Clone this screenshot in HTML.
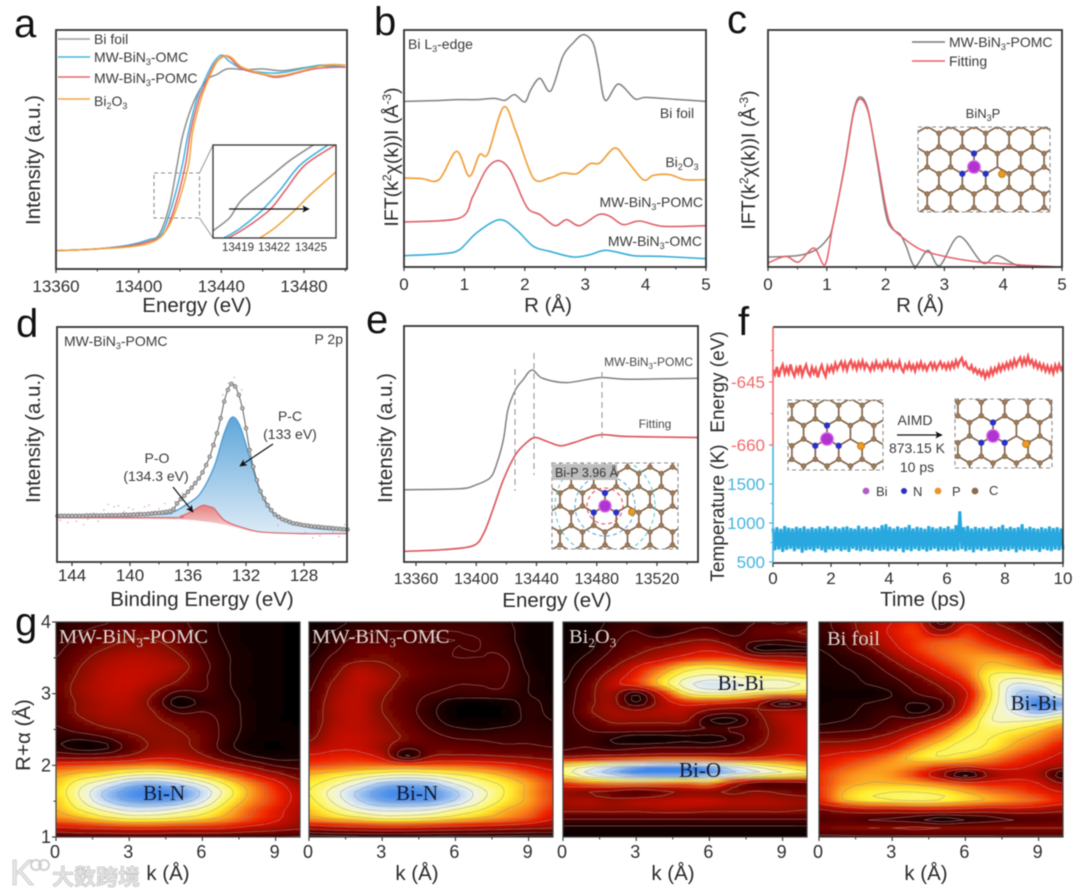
<!DOCTYPE html>
<html lang="en">
<head>
<meta charset="utf-8">
<title>XAFS characterisation figure</title>
<style>
html,body{margin:0;padding:0;background:#fff;width:1080px;height:895px;overflow:hidden}
svg{display:block;filter:blur(.65px)}
text{font-family:"Liberation Sans","Noto Sans CJK SC",sans-serif;fill:#2c2c2c}
.l{font-size:40px;fill:#111}
.t{font-size:17px;text-anchor:middle;fill:#2e2e2e}
.at{font-size:20.5px;text-anchor:middle;fill:#2a2a2a}
.s{font-size:14px;fill:#3a3a3a}
.sm{font-size:12px;fill:#4a4a4a}
.m{text-anchor:middle}
.hl{font-family:"Liberation Serif",serif;font-size:20.5px;fill:#dcd6d2}
.hp{font-family:"Liberation Serif",serif;font-size:21px;fill:#14182c;text-anchor:middle}
</style>
</head>
<body>
<svg id="fig" xmlns="http://www.w3.org/2000/svg" width="1080" height="895" viewBox="0 0 1080 895">
<defs>
<marker id="ah" markerWidth="7" markerHeight="7" refX="5.5" refY="3" orient="auto"><path d="M0 0L6 3L0 6L1.4 3Z" fill="#111"/></marker>
<linearGradient id="gb" gradientUnits="userSpaceOnUse" x1="0" y1="420" x2="0" y2="530"><stop offset="0" stop-color="#62a8da"/><stop offset="1" stop-color="#d9e9f6"/></linearGradient>
<linearGradient id="gr" gradientUnits="userSpaceOnUse" x1="0" y1="505" x2="0" y2="530"><stop offset="0" stop-color="#e67f80"/><stop offset="1" stop-color="#f8d8d8"/></linearGradient>
<filter id="hb" x="-5%" y="-5%" width="110%" height="110%"><feGaussianBlur stdDeviation="1.1"/></filter>
</defs>

<!-- panel letters -->
<text class="l" x="14" y="37">a</text>
<text class="l" x="374" y="35">b</text>
<text class="l" x="727" y="33">c</text>
<text class="l" x="16" y="337">d</text>
<text class="l" x="366" y="333">e</text>
<text class="l" x="738" y="335">f</text>
<text class="l" x="15" y="635">g</text>

<!-- axis titles -->
<text class="at" x="197" y="312">Energy (eV)</text>
<text class="at" transform="rotate(-90 40 160)" x="40" y="160">Intensity (a.u.)</text>
<text class="at" x="548" y="312">R (Å)</text>
<text class="at" style="font-size:19.5px" transform="rotate(-90 398 157)" x="398" y="157">IFT(k<tspan font-size="12" dy="-7">2</tspan><tspan dy="7">χ(k))I (Å</tspan><tspan font-size="12" dy="-7">-3</tspan><tspan dy="7">)</tspan></text>
<text class="at" x="920" y="312">R (Å)</text>
<text class="at" style="font-size:19.5px" transform="rotate(-90 755 160)" x="755" y="160">IFT(k<tspan font-size="12" dy="-7">2</tspan><tspan dy="7">χ(k))I (Å</tspan><tspan font-size="12" dy="-7">-3</tspan><tspan dy="7">)</tspan></text>
<text class="at" x="202" y="606">Binding Energy (eV)</text>
<text class="at" transform="rotate(-90 40 438)" x="40" y="438">Intensity (a.u.)</text>
<text class="at" x="557" y="607">Energy (eV)</text>
<text class="at" transform="rotate(-90 392 438)" x="392" y="438">Intensity (a.u.)</text>
<text class="at" x="923" y="606">Time (ps)</text>
<text class="at" style="font-size:19px" transform="rotate(-90 724 382)" x="724" y="382">Energy (eV)</text>
<text class="at" style="font-size:19px" transform="rotate(-90 724 513)" x="724" y="513">Temperature (K)</text>
<text class="at" transform="rotate(-90 30 735)" x="30" y="735">R+α (Å)</text>
<text class="at" x="168" y="880">k (Å)</text>
<text class="at" x="417" y="880">k (Å)</text>
<text class="at" x="673" y="880">k (Å)</text>
<text class="at" x="926" y="880">k (Å)</text>

<g id="layer"></g>

<!-- panel a legend -->
<g>
<line x1="58" x2="90" y1="39" y2="39" stroke="#999" stroke-width="1.4"/>
<text class="s" x="94" y="44">Bi foil</text>
<line x1="58" x2="90" y1="57" y2="57" stroke="#45b4de" stroke-width="1.4"/>
<text class="s" x="94" y="62">MW-BiN<tspan font-size="9" dy="3">3</tspan><tspan dy="-3">-OMC</tspan></text>
<line x1="58" x2="90" y1="77" y2="77" stroke="#e0666e" stroke-width="1.4"/>
<text class="s" x="94" y="83">MW-BiN<tspan font-size="9" dy="3">3</tspan><tspan dy="-3">-POMC</tspan></text>
<line x1="58" x2="90" y1="99" y2="99" stroke="#f2a640" stroke-width="1.4"/>
<text class="s" x="94" y="106">Bi<tspan font-size="9" dy="3">2</tspan><tspan dy="-3">O</tspan><tspan font-size="9" dy="3">3</tspan></text>
</g>
<g>
<text class="sm m" x="238" y="251" style="font-size:11.5px;fill:#333">13419</text>
<text class="sm m" x="274" y="251" style="font-size:11.5px;fill:#333">13422</text>
<text class="sm m" x="311" y="251" style="font-size:11.5px;fill:#333">13425</text>
</g>

<!-- panel b annotations -->
<text class="s" x="408" y="49">Bi L<tspan font-size="9" dy="3">3</tspan><tspan dy="-3">-edge</tspan></text>
<text class="s m" x="677" y="118">Bi foil</text>
<text class="s m" x="682" y="167">Bi<tspan font-size="9" dy="3">2</tspan><tspan dy="-3">O</tspan><tspan font-size="9" dy="3">3</tspan></text>
<text class="s" text-anchor="end" x="703" y="207">MW-BiN<tspan font-size="9" dy="3">3</tspan><tspan dy="-3">-POMC</tspan></text>
<text class="s" text-anchor="end" x="702" y="246">MW-BiN<tspan font-size="9" dy="3">3</tspan><tspan dy="-3">-OMC</tspan></text>

<!-- panel c annotations -->
<g>
<line x1="912" x2="945" y1="42" y2="42" stroke="#777" stroke-width="1.4"/>
<text class="s" x="949" y="47">MW-BiN<tspan font-size="9" dy="3">3</tspan><tspan dy="-3">-POMC</tspan></text>
<line x1="912" x2="945" y1="61" y2="61" stroke="#e8606a" stroke-width="1.4"/>
<text class="s" x="949" y="66">Fitting</text>
</g>
<text class="s m" style="font-size:13px" x="983" y="118">BiN<tspan font-size="9" dy="3">3</tspan><tspan dy="-3">P</tspan></text>

<!-- panel d annotations -->
<text class="s" x="64" y="346">MW-BiN<tspan font-size="9" dy="3">3</tspan><tspan dy="-3">-POMC</tspan></text>
<text class="s" text-anchor="end" x="343" y="344">P 2p</text>
<text class="s m" x="290" y="421">P-C</text>
<text class="s m" x="290" y="439">(133 eV)</text>
<text class="s m" x="157" y="463">P-O</text>
<text class="s m" x="156" y="481">(134.3 eV)</text>

<!-- panel e annotations -->
<text class="sm" text-anchor="end" x="693" y="366">MW-BiN<tspan font-size="8" dy="3">3</tspan><tspan dy="-3">-POMC</tspan></text>
<text class="sm m" x="655" y="428">Fitting</text>

<!-- panel f annotations -->
<text class="s m" x="915" y="425">AIMD</text>
<text class="s m" x="917" y="453">873.15 K</text>
<text class="s m" x="917" y="472">10 ps</text>
<line x1="897" x2="942" y1="435" y2="435" stroke="#111" stroke-width="1.2" marker-end="url(#ah)"/>
<g>
<circle cx="866" cy="491" r="3.4" fill="#b25cc4"/>
<text class="s" style="font-size:13px" x="876" y="496">Bi</text>
<circle cx="904" cy="491" r="3" fill="#2a2fc0"/>
<text class="s" style="font-size:13px" x="913" y="496">N</text>
<circle cx="938" cy="491" r="3.4" fill="#e8962a"/>
<text class="s" style="font-size:13px" x="952" y="496">P</text>
<circle cx="975" cy="491" r="3.4" fill="#8d6a4c"/>
<text class="s" style="font-size:13px" x="989" y="495">C</text>
</g>

<!-- panel g labels -->
<g id="hlabels">
<text class="hl" x="59" y="643">MW-BiN<tspan font-size="13" dy="4">3</tspan><tspan dy="-4">-POMC</tspan></text>
<text class="hl" x="312" y="643">MW-BiN<tspan font-size="13" dy="4">3</tspan><tspan dy="-4">-OMC</tspan></text>
<text class="hl" x="569" y="643">Bi<tspan font-size="13" dy="4">2</tspan><tspan dy="-4">O</tspan><tspan font-size="13" dy="4">3</tspan></text>
<text class="hl" x="827" y="645">Bi foil</text>
<text class="hp" x="164" y="800">Bi-N</text>
<text class="hp" x="417" y="800">Bi-N</text>
<text class="hp" x="741" y="690">Bi-Bi</text>
<text class="hp" x="700" y="777">Bi-O</text>
<text class="hp" x="1034" y="710">Bi-Bi</text>
</g>

<!-- watermark -->
<g>
<text x="10" y="885" style="font-size:36px;fill:#e6e6e6;stroke:#c8c8c8;stroke-width:.7">K</text>
<circle cx="36" cy="865" r="5" fill="none" stroke="#d0d0d0" stroke-width="2"/>
<circle cx="44" cy="865" r="5" fill="none" stroke="#d0d0d0" stroke-width="2"/>
<text x="52" y="885" style="font-family:'Noto Sans CJK SC',sans-serif;font-size:22px;font-weight:700;fill:#e4e4e4;stroke:#bfbfbf;stroke-width:.6">大数跨境</text>
</g>
</svg>

<script>
/* ---------- panel a: XANES ---------- */
const aTicks=[13360,13400,13440,13480];
const aMinor=[13380,13420,13460,13500];
const aGrayE=[13360,13380,13395,13405,13410,13415,13418.5,13421.6,13427,13433,13438,13443,13452,13460,13470,13486,13500];
const aGrayV=[0,.01,.03,.06,.09,.25,.46,.64,.82,.93,.96,.99,.985,.99,.98,1.005,1.0];
const aBlueE=[13360,13380,13395,13405,13411,13416,13421,13424,13428,13432,13436,13440,13444,13450,13460,13470,13488,13500];
const aBlueV=[0,.01,.03,.06,.09,.24,.46,.64,.82,.93,1.02,1.065,1.03,.99,.97,.97,1.01,1.0];
const aRedE=[13360,13380,13395,13405,13412,13417,13422.5,13425,13429,13433,13437,13441,13444,13450,13460,13468,13485,13500];
const aRedV=[0,.01,.025,.05,.09,.22,.46,.64,.82,.93,1.02,1.06,1.05,.99,.96,.945,.99,1.0];
const aOrangeE=[13360,13380,13395,13405,13412,13418,13424,13426,13430,13434,13438,13442,13445,13450,13461,13470,13490,13500];
const aOrangeV=[0,.01,.02,.04,.09,.22,.46,.64,.82,.94,1.03,1.06,1.05,1.0,.96,.955,1.01,1.01];
const insGrayE=[13416.9,13418.3,13419.3,13421.5,13423.3,13425.2];
const insGrayV=[.196,.231,.278,.336,.383,.423];
const insBlueE=[13417.85,13419.2,13421,13422.45,13424.1,13426.4];
const insBlueV=[.178,.204,.252,.304,.370,.423];
const insRedE=[13418.2,13419.6,13421.6,13422.9,13424.5,13427];
const insRedV=[.178,.204,.252,.304,.370,.423];
const insOrangeE=[13420.8,13422,13423.7,13424.9,13427.05];
const insOrangeV=[.178,.204,.252,.291,.352];

/* ---------- panel b: FT-EXAFS ---------- */
const bTicks=[0,1,2,3,4,5];
const bGrayR=[0,.5,.9,1.2,1.5,1.67,1.83,2.0,2.1,2.25,2.43,2.63,2.8,2.97,3.13,3.22,3.33,3.55,3.82,4.0,4.5,5];
const bGrayI=[497,499,502,502,506,500,517,495,532,566,528,632,672,697,672,600,500,549,505,509,503,497];
const bOrangeR=[0,.3,.58,.87,1.08,1.25,1.39,1.65,1.86,2.14,2.41,2.63,2.86,3.08,3.24,3.49,3.68,3.96,4.13,4.4,4.65,5];
const bOrangeI=[267,265,262,347,272,337,340,480,402,267,267,282,280,310,312,357,322,262,275,277,262,262];
const bRedR=[0,.92,1.14,1.36,1.56,1.75,1.97,2.08,2.25,2.5,2.69,2.91,3.22,3.41,3.63,3.9,4.29,5];
const bRedI=[135,147,212,292,319,292,202,170,157,124,142,124,157,152,127,138,122,124];
const bBlueR=[0,.65,.92,1.2,1.58,1.86,2.14,2.41,2.8,3.08,3.35,3.8,4.24,5];
const bBlueI=[34,40,52,102,142,112,62,47,30,37,50,34,32,25];

/* ---------- panel c: FT fit ---------- */
const cGrayR=[0,.5,.8,1,1.1,1.3,1.45,1.56,1.7,1.85,2,2.1,2.25,2.35,2.5,2.72,2.92,3.25,3.65,3.9,4.3,5];
const cGrayI=[30,34,50,82,122,302,462,510,472,322,162,117,97,62,2,50,4,92,12,34,2,0];
const cRedR=[0,.3,.52,.78,.97,1.1,1.3,1.45,1.56,1.7,1.85,2,2.1,2.3,2.6,3,3.5,4,4.5,5];
const cRedI=[12,32,15,57,7,122,297,457,504,467,332,182,122,87,52,32,17,10,4,0];

/* ---------- panel d: P 2p XPS ---------- */
const dTicks=[144,140,136,132,128];
const dMinor=[142,138,134,130,126];
const dEnvelope=[138,138,138,138,138,138,138,138,139,139,139,139,139,139,140,140,140,140,141,141,141,142,142,143,143,144,145,146,147,148,150,152,158,175,188,198,210,222,236,250,268,290,315,350,385,430,480,515,533,525,500,460,400,335,285,245,212,190,170,155,142,135,128,124,120,116,114,112,110,109,107,106,105,104,103,102,101,100,99,98,97];
const dBlueE=[145,138,137,136,135.15,134.2,133.5,132.96,132.4,131.7,131,130.1,128.7,127.1,125];
const dBlueI=[138,143,150,175,205,285,385,433,405,305,210,145,115,100,95];
const dRedE=[145,137,136.5,135.8,135.2,134.9,134.5,134.2,133.5,132.4,131,128.2,125];
const dRedI=[133,133,137,150,165,170,165,160,125,105,90,85,85];
const dBaseE=[145,137,135,133.5,132,131,128,125];
const dBaseI=[130,128,122,112,95,88,83,85];
const dRawE=[144.8,144.3,143.7,143.2,142.9,142.5,142.2,141.8,141.5,141.1,140.8,140.4,140.1,139.8,139.4,139,138.7,138.3,138,137.6,137.3,136.9,136.4,135.7,134.9,134.1,133.6,133.2,132.8,132.3,131.8,131.3,130.6,129.8,128.9,127.9,127.4,126.9,126.5,126,125.6,125.2];
const dRawI=[125,118,122,112,128,146,122,155,172,165,168,150,163,158,148,165,170,152,160,175,145,180,205,228,268,345,500,535,552,515,352,240,165,110,118,88,72,78,100,90,76,112];

/* ---------- panel e: XANES fit ---------- */
const eTicks=[13360,13400,13440,13480,13520];
const eMinor=[13380,13420,13460,13500,13540];
const eGrayE=[13352,13389,13400,13409,13413,13418,13421,13426,13431,13437,13444,13460,13482,13500,13547];
const eGrayI=[217,220,232,252,287,367,457,517,547,577,552,539,554,549,552];
const eRedE=[13352,13378,13398,13405,13411,13418,13426,13433,13439,13447,13456,13465,13482,13500,13547];
const eRedI=[32,37,49,87,157,247,322,357,374,362,349,359,382,377,374];

/* ---------- panel f: AIMD ---------- */
const fTicks=[0,2,4,6,8,10];
const fEnergyTicks=[-645,-660];
const fTempTicks=[1500,1000,500];
const fEnergy=[-642.1,-643.2,-641.4,-643.8,-641.9,-640.9,-643,-641.6,-642.9,-640.8,-642.6,-643.6,-641.7,-642.8,-641,-643.4,-642,-640.9,-642.7,-643.5,-641.5,-642.9,-641.8,-643.9,-642.2,-641,-642.6,-643.7,-641.3,-642.4,
-641.2,-642.5,-640.6,-642,-641,-640.2,-641.9,-640.4,-642.2,-640.7,-639.9,-641.6,-640.5,-642,-640.3,-641.5,-640,-641.8,-640.6,-641.4,-642.3,-640.7,-641.9,-640.2,-641.6,-640.8,-642,-640.4,-641.3,-640,
-641.5,-640.4,-642.1,-640.8,-641.6,-640.1,-641.9,-642.6,-640.9,-641.8,-640.5,-642,-641,-642.4,-640.7,-641.7,-640.3,-641.9,-640.9,-642.2,-641.1,-640.4,-641.8,-640.6,-642,-641,-640.2,-641.6,-640.7,-641.9,
-640.6,-641.8,-640.4,-641.5,-639.9,-641.2,-640,-639.3,-641,-640.3,-641.6,-642,-641.1,-642.6,-641.8,-643,-642.2,-643.4,-642.4,-644,-642.6,-643.6,-641.9,-643.2,-641.7,-642.6,-641,-642.3,-640.9,-641.9,
-640.5,-641.7,-640.2,-641.4,-639.7,-641.1,-640,-639.2,-640.9,-639.4,-640.7,-638.9,-640.6,-639.8,-641.3,-640.2,-641.7,-640.6,-642,-640.9,-642.4,-641.2,-642.6,-641.4,-642.9,-641,-642.3,-640.8,-642.1,-641.2];
const fTemp=[930,650,945,660,925,630,960,655,940,670,930,640,950,665,935,620,955,650,925,660,945,640,930,670,950,650,935,625,960,660,
925,645,950,665,930,640,945,655,955,630,935,670,925,650,965,640,930,660,950,650,925,635,945,665,935,645,970,655,985,640,
950,660,930,640,955,670,935,625,945,655,975,640,930,665,950,645,940,660,925,635,960,650,945,670,930,640,950,655,935,645,
955,660,925,640,970,650,1150,665,945,640,960,655,930,625,950,660,935,645,945,670,925,640,955,650,930,660,945,635,975,655,
930,645,950,665,935,625,945,655,985,640,930,660,950,645,935,655,925,630,945,665,930,650,955,640,935,660,945,650,930,665];

/* ---------- panel g: wavelet-transform magnitude (rows R = 4 to 1, columns k = 0 to 10) ---------- */
const gKTicks=[0,3,6,9];
const gRTicks=[4,3,2,1];
const hmPomc=[
[8,12,15,18,20,18,12,6,3,2,1],
[10,15,20,24,24,20,13,6,3,2,1],
[12,18,24,28,28,23,14,7,3,2,1],
[14,22,28,32,32,26,16,8,4,2,1],
[16,25,33,37,36,30,18,9,4,2,1],
[18,28,36,39,38,34,20,9,4,2,1],
[20,30,38,40,38,30,18,9,4,2,1],
[22,32,38,40,34,25,18,9,4,2,1],
[22,32,38,38,28,12,15,10,4,2,1],
[20,30,36,36,24,3,10,11,5,2,1],
[20,30,35,34,28,14,16,12,5,2,1],
[18,26,32,33,30,24,20,13,5,2,1],
[14,20,26,30,31,28,22,13,5,3,2],
[10,9,14,24,30,30,24,12,4,3,3],
[10,4,6,20,30,31,24,11,3,1,3],
[24,22,24,30,38,38,30,18,9,5,6],
[50,52,54,56,58,54,46,35,25,15,12],
[62,66,70,76,78,74,66,56,44,32,22],
[66,76,84,92,94,90,82,70,58,46,32],
[68,80,92,98,100,98,90,76,62,50,38],
[66,78,90,96,97,95,86,72,60,50,38],
[64,72,80,86,86,82,76,66,55,46,36],
[58,62,68,72,72,70,66,60,52,44,34],
[40,42,44,46,46,44,44,42,38,34,30],
[15,18,18,18,18,18,18,18,15,15,15]];
const hmOmc=[
[3,5,10,12,14,14,14,14,10,3,2],
[4,8,14,16,16,16,16,15,12,3,2],
[5,12,18,18,17,16,16,16,12,3,2],
[6,14,22,24,20,17,16,16,14,4,2],
[8,18,24,26,22,18,16,16,16,5,2],
[10,22,34,30,24,20,18,18,18,6,2],
[12,26,38,34,26,20,18,18,17,8,3],
[14,30,38,34,22,18,16,16,16,8,3],
[16,32,38,30,20,16,14,14,14,8,4],
[18,34,38,28,20,12,3,2,4,10,5],
[20,34,38,28,20,10,2,1,2,10,6],
[20,34,38,30,22,12,3,2,3,10,8],
[22,36,38,32,24,16,10,8,10,12,10],
[26,38,40,34,26,20,16,15,14,14,12],
[34,40,40,32,18,22,22,20,18,18,16],
[44,46,46,38,8,28,30,30,28,26,24],
[52,54,56,56,54,54,54,52,48,42,36],
[64,68,72,76,78,76,72,68,62,54,46],
[70,76,84,92,94,92,84,76,70,62,52],
[72,82,92,98,100,98,92,82,72,62,52],
[70,80,90,96,97,96,90,80,70,62,52],
[66,74,82,86,86,84,78,72,64,58,48],
[60,64,68,72,72,70,66,62,58,52,42],
[32,36,38,40,40,38,36,34,32,30,28],
[4,5,6,6,6,6,6,6,6,5,5]];
const hmBi2O3=[
[2,3,10,14,14,15,14,10,16,14,18],
[2,4,12,16,8,15,18,12,22,24,30],
[2,5,14,20,20,26,28,20,18,16,22],
[2,6,16,24,30,36,40,30,5,5,6],
[3,10,20,30,38,46,50,48,36,34,30],
[5,14,26,42,54,66,70,66,60,54,50],
[6,18,34,48,64,76,80,78,74,72,68],
[8,22,38,48,66,82,88,86,82,82,78],
[8,24,32,10,42,70,78,76,70,66,64],
[10,24,32,8,34,46,46,42,32,6,20],
[10,26,34,32,36,36,24,20,28,34,34],
[12,20,30,30,30,30,8,6,24,36,40],
[12,16,20,20,20,18,16,18,24,34,42],
[12,14,8,3,3,6,4,10,24,34,42],
[14,16,12,14,16,16,16,20,28,36,42],
[26,30,32,34,36,36,36,34,38,44,42],
[70,76,84,90,95,95,90,82,74,68,62],
[74,85,92,98,100,100,96,88,82,76,72],
[50,56,60,60,58,56,60,36,20,20,22],
[32,28,24,18,24,30,30,26,30,26,24],
[34,36,32,36,38,40,40,36,36,34,32],
[30,30,30,30,32,32,30,30,30,30,28],
[16,16,16,16,16,16,16,16,16,16,16],
[6,6,6,6,6,6,6,6,6,6,6],
[3,3,3,3,3,3,3,3,3,3,3]];
const hmFoil=[
[12,22,34,42,46,12,40,30,20,10,4],
[12,20,34,44,50,30,48,38,28,16,6],
[10,16,30,42,50,52,54,46,36,24,10],
[8,14,24,38,50,56,58,54,46,34,16],
[6,10,16,30,44,54,60,62,58,48,28],
[6,8,12,22,36,48,58,66,64,56,42],
[5,6,10,16,26,40,54,72,76,72,66],
[4,5,8,12,20,30,46,72,86,84,78],
[4,4,3,8,16,24,40,70,90,92,82],
[4,5,8,10,8,14,42,72,90,100,96],
[5,6,10,14,6,18,48,76,86,94,88],
[6,8,12,18,22,36,60,78,80,78,70],
[12,14,16,24,36,52,68,74,72,66,58],
[24,24,28,36,50,62,72,72,66,60,52],
[34,36,38,46,60,70,74,70,62,54,44],
[42,46,50,58,68,72,68,62,54,46,40],
[46,52,58,62,60,54,50,50,46,40,34],
[50,58,62,60,50,30,4,30,38,34,8],
[50,60,64,64,62,56,48,46,46,42,28],
[50,64,70,72,72,70,64,58,54,48,42],
[46,62,68,70,72,70,66,62,58,54,46],
[26,32,36,36,38,38,36,34,36,34,30],
[18,20,16,14,10,3,8,12,16,18,20],
[24,26,28,28,30,28,28,28,28,28,28],
[14,14,14,14,14,14,14,14,14,14,14]];
const gContourLevels=[8,16,28,42,54,64,72,79,85,91,96];

/* ---------- drawing helpers ---------- */
const NS='http://www.w3.org/2000/svg';
const layer=document.getElementById('layer');
const defs=document.querySelector('defs');
function mk(tag,attrs,parent,name){
  const el=document.createElementNS(NS,tag);
  for(const k in attrs){el.setAttribute(k,attrs[k]);}
  
  
  (parent||layer).appendChild(el);
  return el;
}
function linear(d0,d1,r0,r1){const s=(r1-r0)/(d1-d0);return v=>r0+(v-d0)*s;}
function smooth(pts){
  let d='M'+pts[0][0].toFixed(2)+' '+pts[0][1].toFixed(2);
  for(let i=0;i<pts.length-1;i++){
    const p0=pts[Math.max(i-1,0)],p1=pts[i],p2=pts[i+1],p3=pts[Math.min(i+2,pts.length-1)];
    const t=.16;
    const c1=[p1[0]+(p2[0]-p0[0])*t,p1[1]+(p2[1]-p0[1])*t];
    const c2=[p2[0]-(p3[0]-p1[0])*t,p2[1]-(p3[1]-p1[1])*t];
    d+='C'+c1[0].toFixed(2)+' '+c1[1].toFixed(2)+' '+c2[0].toFixed(2)+' '+c2[1].toFixed(2)+' '+p2[0].toFixed(2)+' '+p2[1].toFixed(2);
  }
  return d;
}
function zip(xs,ys,sx,sy){return xs.map((x,i)=>[sx(x),sy(ys[i])]);}
function curve(xs,ys,sx,sy,color,name,width,parent){
  return mk('path',{d:smooth(zip(xs,ys,sx,sy)),fill:'none',stroke:color,'stroke-width':width||1.5,'stroke-linejoin':'round'},parent,name);
}
function frame(x0,y0,x1,y1,name,color){
  return mk('rect',{x:x0,y:y0,width:x1-x0,height:y1-y0,fill:'none',stroke:color||'#333','stroke-width':1.8},layer,name);
}
function xAxis(prefix,sx,y,ticks,minor,labelY,fs){
  ticks.forEach(t=>{
    mk('line',{x1:sx(t),x2:sx(t),y1:y,y2:y+4,stroke:'#333','stroke-width':1.2},layer,prefix+'-x-tick');
    const l=mk('text',{x:sx(t),y:labelY,class:'t',style:fs?'font-size:'+fs+'px':''},layer,prefix+'-x-tick-label');
    l.textContent=t;
  });
  minor.forEach(t=>{
    mk('line',{x1:sx(t),x2:sx(t),y1:y,y2:y+2.5,stroke:'#333','stroke-width':1},layer,prefix+'-x-minor-tick');
  });
}
function clip(id,x,y,w,h){
  const c=document.createElementNS(NS,'clipPath');
  c.setAttribute('id',id);
  const r=document.createElementNS(NS,'rect');
  r.setAttribute('x',x);r.setAttribute('y',y);r.setAttribute('width',w);r.setAttribute('height',h);
  c.appendChild(r);defs.appendChild(c);
}
function lattice(prefix,x0,y0,x1,y1,bx,by,a,px,py){
  clip(prefix+'-clip',x0,y0,x1-x0,y1-y0);
  const g=mk('g',{'clip-path':'url(#'+prefix+'-clip)'},layer,prefix+'-lattice');
  const W=Math.sqrt(3)*a;
  const bonds=[];const atoms=[];
  for(let j=-7;j<=7;j++){for(let i=-12;i<=12;i++){
    const x=bx+(i+j/2)*W,y=by+j*1.5*a;
    if(x<x0-30||x>x1+30||y<y0-30||y>y1+30)continue;
    const center=(i===0&&j===0);
    const nb=[[0,-a],[-W/2,a/2],[W/2,a/2]];
    nb.forEach(n=>{bonds.push('M'+x.toFixed(1)+' '+y.toFixed(1)+'L'+(x+n[0]).toFixed(1)+' '+(y+n[1]).toFixed(1));});
    if(!center&&!(i===1&&j===0))atoms.push([x,y]);
    atoms.push([x,y-a]);
  }}
  mk('path',{d:bonds.join(''),stroke:'#86664a','stroke-width':1.7,fill:'none'},g,prefix+'-bonds');
  atoms.forEach(p=>{
    mk('circle',{cx:p[0].toFixed(1),cy:p[1].toFixed(1),r:2.5,fill:'#9c7c5a',stroke:'#6f533a','stroke-width':.5},g,prefix+'-carbon-atom');
  });
  [[0,-a],[-W/2,a/2],[W/2,a/2]].forEach(n=>{
    mk('circle',{cx:bx+n[0],cy:by+n[1],r:3.1,fill:'#2830c8'},g,prefix+'-nitrogen-atom');
  });
  mk('circle',{cx:bx,cy:by,r:a*.46,fill:'#b032d0',stroke:'#d86ce6','stroke-width':1.4},g,prefix+'-bismuth-atom');
  mk('circle',{cx:px,cy:py,r:3.6,fill:'#ee9a22',stroke:'#a86a10','stroke-width':.7},g,prefix+'-phosphorus-atom');
  return g;
}
function box(x0,y0,x1,y1,name){
  mk('rect',{x:x0,y:y0,width:x1-x0,height:y1-y0,fill:'none',stroke:'#8c8c8c','stroke-width':1.1,'stroke-dasharray':'4 3'},layer,name);
}

/* ---------- panel a ---------- */
const ax=linear(13360,13480,56,304), ay=linear(0,1,250.7,67);
curve(aGrayE,aGrayV,ax,ay,'#8f8f8f','a-line-bi-foil');
curve(aBlueE,aBlueV,ax,ay,'#45b4de','a-line-omc');
curve(aRedE,aRedV,ax,ay,'#e0666e','a-line-pomc');
curve(aOrangeE,aOrangeV,ax,ay,'#f2a640','a-line-bi2o3');
frame(56,30,347,269,'a-plot-frame');
xAxis('a',ax,269,aTicks,aMinor,292);
box(154,173,199.5,218,'a-zoom-region');
mk('line',{x1:199.5,y1:173,x2:213,y2:145,stroke:'#999','stroke-width':1},layer,'a-inset-connector-top');
mk('line',{x1:199.5,y1:218,x2:213,y2:238,stroke:'#999','stroke-width':1},layer,'a-inset-connector-bottom');
mk('rect',{x:213,y:145,width:123,height:93,fill:'#fff',stroke:'none'},layer,'a-inset-background');
clip('insc',213,145,123,93);
const insG=mk('g',{'clip-path':'url(#insc)'},layer,'a-inset-lines');
const ix=linear(13419,13425,238,311), iy=linear(.178,.423,238,145);
curve(insGrayE,insGrayV,ix,iy,'#8f8f8f','inset-line-bi-foil',1.6,insG);
curve(insBlueE,insBlueV,ix,iy,'#45b4de','inset-line-omc',1.6,insG);
curve(insRedE,insRedV,ix,iy,'#e0666e','inset-line-pomc',1.6,insG);
curve(insOrangeE,insOrangeV,ix,iy,'#f2a640','inset-line-bi2o3',1.6,insG);
mk('rect',{x:213,y:145,width:123,height:93,fill:'none',stroke:'#333','stroke-width':1.3},layer,'a-inset-frame');
mk('line',{x1:229,y1:209,x2:309,y2:209,stroke:'#111','stroke-width':1.2,'marker-end':'url(#ah)'},layer,'a-inset-shift-arrow');

/* ---------- panel b ---------- */
const bx=linear(0,5,404,706), by=linear(0,711,267,30);
curve(bGrayR,bGrayI,bx,by,'#808080','b-line-bi-foil');
curve(bOrangeR,bOrangeI,bx,by,'#f0a03c','b-line-bi2o3',1.7);
curve(bRedR,bRedI,bx,by,'#dd626a','b-line-pomc',1.6);
curve(bBlueR,bBlueI,bx,by,'#38aed8','b-line-omc',1.6);
frame(404,30,706,267,'b-plot-frame');
xAxis('b',bx,267,bTicks,[.5,1.5,2.5,3.5,4.5],290);

/* ---------- panel c ---------- */
const cx=linear(0,5,768,1062), cy=linear(0,711,267,30);
curve(cGrayR,cGrayI,cx,cy,'#808080','c-line-pomc');
curve(cRedR,cRedI,cx,cy,'#e8606a','c-line-fitting');
frame(768,30,1062,267,'c-plot-frame');
xAxis('c',cx,267,bTicks,[.5,1.5,2.5,3.5,4.5],290);
lattice('c-structure',918,127,1050,212,974,167,13.5,1002,174);
box(918,127,1050,212,'c-structure-box');

/* ---------- panel d ---------- */
const dx=linear(144,128,72,304), dy=linear(0,703,562,327);
const blueTop=zip(dBlueE,dBlueI,dx,dy), redTop=zip(dRedE,dRedI,dx,dy), base=zip(dBaseE,dBaseI,dx,dy);
mk('path',{d:smooth(blueTop)+'L'+redTop[redTop.length-1].join(' ')+smooth(redTop.slice().reverse()).replace('M','L')+'Z',fill:'url(#gb)'},layer,'d-p-c-peak-area');
mk('path',{d:smooth(redTop)+'L'+base[base.length-1].join(' ')+smooth(base.slice().reverse()).replace('M','L')+'Z',fill:'url(#gr)'},layer,'d-p-o-peak-area');
curve(dBlueE,dBlueI,dx,dy,'#4e9dd2','d-p-c-line',1.4);
curve(dRedE,dRedI,dx,dy,'#d9686e','d-p-o-line',1.2);
dRawE.forEach((e,i)=>{
  mk('circle',{cx:dx(e),cy:dy(dRawI[i]),r:.8,fill:'#d8a4d8'},layer,'d-raw-data-point');
});
const envPts=dEnvelope.map((h,i)=>[dx(145-i*.25),dy(h)]);
mk('path',{d:smooth(envPts),fill:'none',stroke:'#6e6e6e','stroke-width':1.1},layer,'d-fit-envelope');
envPts.forEach(p=>{
  mk('circle',{cx:p[0],cy:p[1],r:1.9,fill:'#b8b8b8',stroke:'#6e6e6e','stroke-width':.7},layer,'d-envelope-point');
});
frame(57,327,347,562,'d-plot-frame');
xAxis('d',dx,562,dTicks,dMinor,581);
mk('line',{x1:273,y1:444,x2:240,y2:466,stroke:'#111','stroke-width':1.2,'marker-end':'url(#ah)'},layer,'d-p-c-arrow');
mk('line',{x1:173,y1:487,x2:193,y2:512,stroke:'#111','stroke-width':1.2,'marker-end':'url(#ah)'},layer,'d-p-o-arrow');

/* ---------- panel e ---------- */
const ex=linear(13360,13520,416,657), ey=linear(0,709,562,326);
curve(eGrayE,eGrayI,ex,ey,'#808080','e-line-pomc');
curve(eRedE,eRedI,ex,ey,'#dd5a60','e-line-fitting',1.7);
[[515,369,491],[534,353,475],[602,372,442]].forEach(v=>{
  mk('line',{x1:v[0],x2:v[0],y1:v[1],y2:v[2],stroke:'#999','stroke-width':1.1,'stroke-dasharray':'6 4'},layer,'e-guide-line');
});
frame(404,326,698,562,'e-plot-frame');
xAxis('e',ex,562,eTicks,eMinor,584,16);
lattice('e-structure',552,463,678,549,605,506,13,632,512);
clip('ecirc',552,463,126,86);
const ec=mk('g',{'clip-path':'url(#ecirc)',fill:'none','stroke-width':1,'stroke-dasharray':'4 3'},layer,'e-shell-circles');
mk('circle',{cx:605,cy:506,r:18,stroke:'#e0404a'},ec,'e-shell-first');
mk('circle',{cx:605,cy:506,r:30,stroke:'#4f9ed6'},ec,'e-shell-second');
mk('circle',{cx:605,cy:506,r:50,stroke:'#56c0c4'},ec,'e-shell-third');
box(552,463,678,549,'e-structure-box');
mk('rect',{x:552,y:464,width:65,height:16,fill:'#bdbdbd'},layer,'e-bond-label-background');
const eb=mk('text',{x:555,y:477,style:'font-size:12.5px;fill:#333'},layer,'e-bond-label');
eb.textContent='Bi-P 3.96 Å';

/* ---------- panel f ---------- */
const fx=linear(0,10,773,1063), fEy=linear(-645,-660,382,445), fTy=linear(1000,500,523,562);
mk('path',{d:'M'+fEnergy.map((v,i)=>fx(i*10/(fEnergy.length-1)).toFixed(1)+' '+fEy(v).toFixed(1)).join('L'),fill:'none',stroke:'#f25556','stroke-width':2.4},layer,'f-energy-trace');
mk('path',{d:'M'+fTemp.map((v,i)=>fx(i*10/(fTemp.length-1)).toFixed(1)+' '+fTy(v).toFixed(1)).join('L'),fill:'none',stroke:'#28a8de','stroke-width':3},layer,'f-temperature-trace');
mk('path',{d:'M773 327H1063V563H773',fill:'none',stroke:'#333','stroke-width':1.7},layer,'f-plot-frame');
mk('line',{x1:773,x2:773,y1:327,y2:445,stroke:'#f06a6a','stroke-width':1.6},layer,'f-energy-axis');
mk('line',{x1:773,x2:773,y1:445,y2:563,stroke:'#44b4de','stroke-width':1.6},layer,'f-temperature-axis');
xAxis('f',fx,563,fTicks,[1,3,5,7,9],584);
fEnergyTicks.forEach(t=>{
  mk('line',{x1:769,x2:773,y1:fEy(t),y2:fEy(t),stroke:'#f06a6a','stroke-width':1.2},layer,'f-energy-tick');
  const l=mk('text',{x:765,y:fEy(t)+6,'text-anchor':'end',style:'font-size:17px;fill:#f06a6a'},layer,'f-energy-tick-label');
  l.textContent=t;
});
[-637.5,-652.5].forEach(t=>{
  mk('line',{x1:770.5,x2:773,y1:fEy(t),y2:fEy(t),stroke:'#f06a6a','stroke-width':1},layer,'f-energy-minor-tick');
});
fTempTicks.forEach(t=>{
  mk('line',{x1:769,x2:773,y1:fTy(t),y2:fTy(t),stroke:'#44b4de','stroke-width':1.2},layer,'f-temperature-tick');
  const l=mk('text',{x:765,y:fTy(t)+6,'text-anchor':'end',style:'font-size:17px;fill:#44b4de'},layer,'f-temperature-tick-label');
  l.textContent=t;
});
[1250,750].forEach(t=>{
  mk('line',{x1:770.5,x2:773,y1:fTy(t),y2:fTy(t),stroke:'#44b4de','stroke-width':1},layer,'f-temperature-minor-tick');
});
lattice('f-initial',788,400,883,470,827,439,13.5,861,446);
box(788,400,883,470,'f-initial-structure-box');
lattice('f-final',955,399,1052,468,993,436,13.5,1026,444);
box(955,399,1052,468,'f-final-structure-box');

/* ---------- panel g ---------- */
const stops=[[0,[0,0,0]],[10,[42,2,0]],[20,[90,5,0]],[30,[138,8,0]],[40,[196,12,0]],[48,[236,32,0]],[55,[244,90,16]],[62,[251,160,32]],[70,[255,240,48]],[78,[251,249,160]],[85,[238,243,234]],[90,[197,220,245]],[100,[63,134,232]]];
function heatColor(v){
  v=Math.max(0,Math.min(100,v));
  for(let i=1;i<stops.length;i++){
    if(v<=stops[i][0]){
      const a=stops[i-1],b=stops[i],t=(v-a[0])/(b[0]-a[0]);
      return 'rgb('+a[1].map((c,j)=>Math.round(c+(b[1][j]-c)*t)).join(',')+')';
    }
  }
  return 'rgb(63,134,232)';
}
function cr(a,b,c,d,t){return .5*((2*b)+(c-a)*t+(2*a-5*b+4*c-d)*t*t+(3*b-a-3*c+d)*t*t*t);}
function sample(grid,k,row){
  const rows=grid.length,cols=grid[0].length;
  k=Math.max(0,Math.min(cols-1.001,k));row=Math.max(0,Math.min(rows-1.001,row));
  const c=Math.floor(k),r=Math.floor(row),tk=k-c,tr=row-r;
  const g=(a,b)=>grid[Math.max(0,Math.min(rows-1,a))][Math.max(0,Math.min(cols-1,b))];
  const line=a=>cr(g(a,c-1),g(a,c),g(a,c+1),g(a,c+2),tk);
  return cr(line(r-1),line(r),line(r+1),line(r+2),tr);
}
function heatmap(prefix,grid,left){
  const top=622,bottom=837,width=244,step=4;
  const sx=linear(0,10,left,left+width), sy=linear(4,1,top,bottom);
  const kAt=px=>(px-left)/(width/10), rowAt=py=>((py-top)/(bottom-top)*3)/.125;
  clip(prefix+'-clip',left,top,width,bottom-top);
  const wrap=mk('g',{'clip-path':'url(#'+prefix+'-clip)'},layer,prefix+'-plot-area');
  const cells=mk('g',{filter:'url(#hb)'},wrap,prefix+'-heatmap');
  const field=[];
  for(let py=top-step*2;py<bottom+step*2;py+=step){
    const rowVals=[];
    for(let px=left-step*2;px<left+width+step*2;px+=step){
      const v=sample(grid,kAt(px+step/2),rowAt(py+step/2));
      rowVals.push(v);
      mk('rect',{x:px,y:py,width:step+.4,height:step+.4,fill:heatColor(v)},cells,prefix+'-heatmap-cell');
    }
    field.push(rowVals);
  }
  gContourLevels.forEach(level=>{
    let d='';
    for(let j=0;j<field.length-1;j++){for(let i=0;i<field[0].length-1;i++){
      const x=left-step*2+i*step+step/2,y=top-step*2+j*step+step/2;
      const a=field[j][i],b=field[j][i+1],c=field[j+1][i+1],e=field[j+1][i];
      const pts=[];
      if((a<level)!==(b<level))pts.push([x+step*(level-a)/(b-a),y]);
      if((b<level)!==(c<level))pts.push([x+step,y+step*(level-b)/(c-b)]);
      if((e<level)!==(c<level))pts.push([x+step*(level-e)/(c-e),y+step]);
      if((a<level)!==(e<level))pts.push([x,y+step*(level-a)/(e-a)]);
      if(pts.length>=2)d+='M'+pts[0][0].toFixed(1)+' '+pts[0][1].toFixed(1)+'L'+pts[1][0].toFixed(1)+' '+pts[1][1].toFixed(1);
      if(pts.length===4)d+='M'+pts[2][0].toFixed(1)+' '+pts[2][1].toFixed(1)+'L'+pts[3][0].toFixed(1)+' '+pts[3][1].toFixed(1);
    }}
    mk('path',{d:d,fill:'none',stroke:level<50?'#c0aaa4':'#8a8a8a','stroke-width':.6,opacity:.6},wrap,prefix+'-contour-line');
  });
  mk('rect',{x:left,y:top,width:width,height:bottom-top,fill:'none',stroke:'#444','stroke-width':1.2},layer,prefix+'-frame');
  gKTicks.forEach(t=>{
    mk('line',{x1:sx(t),x2:sx(t),y1:bottom,y2:bottom+4,stroke:'#333','stroke-width':1.1},layer,prefix+'-x-tick');
    const l=mk('text',{x:sx(t)-1,y:858,class:'t',style:'font-size:18px'},layer,prefix+'-x-tick-label');
    l.textContent=t;
  });
  [1.5,4.5,7.5].forEach(t=>{
    mk('line',{x1:sx(t),x2:sx(t),y1:bottom,y2:bottom+2.5,stroke:'#333','stroke-width':1},layer,prefix+'-x-minor-tick');
  });
  return sy;
}
const gy=heatmap('g1',hmPomc,56);
heatmap('g2',hmOmc,309);
heatmap('g3',hmBi2O3,563);
heatmap('g4',hmFoil,819);
gRTicks.forEach(t=>{
  mk('line',{x1:52,x2:56,y1:gy(t),y2:gy(t),stroke:'#333','stroke-width':1.1},layer,'g-y-tick');
  const l=mk('text',{x:51,y:gy(t)+6,'text-anchor':'end',style:'font-size:18px;fill:#2e2e2e'},layer,'g-y-tick-label');
  l.textContent=t;
});
[3.5,2.5,1.5].forEach(t=>{
  mk('line',{x1:53.5,x2:56,y1:gy(t),y2:gy(t),stroke:'#333','stroke-width':1},layer,'g-y-minor-tick');
});
</script>
</body>
</html>
